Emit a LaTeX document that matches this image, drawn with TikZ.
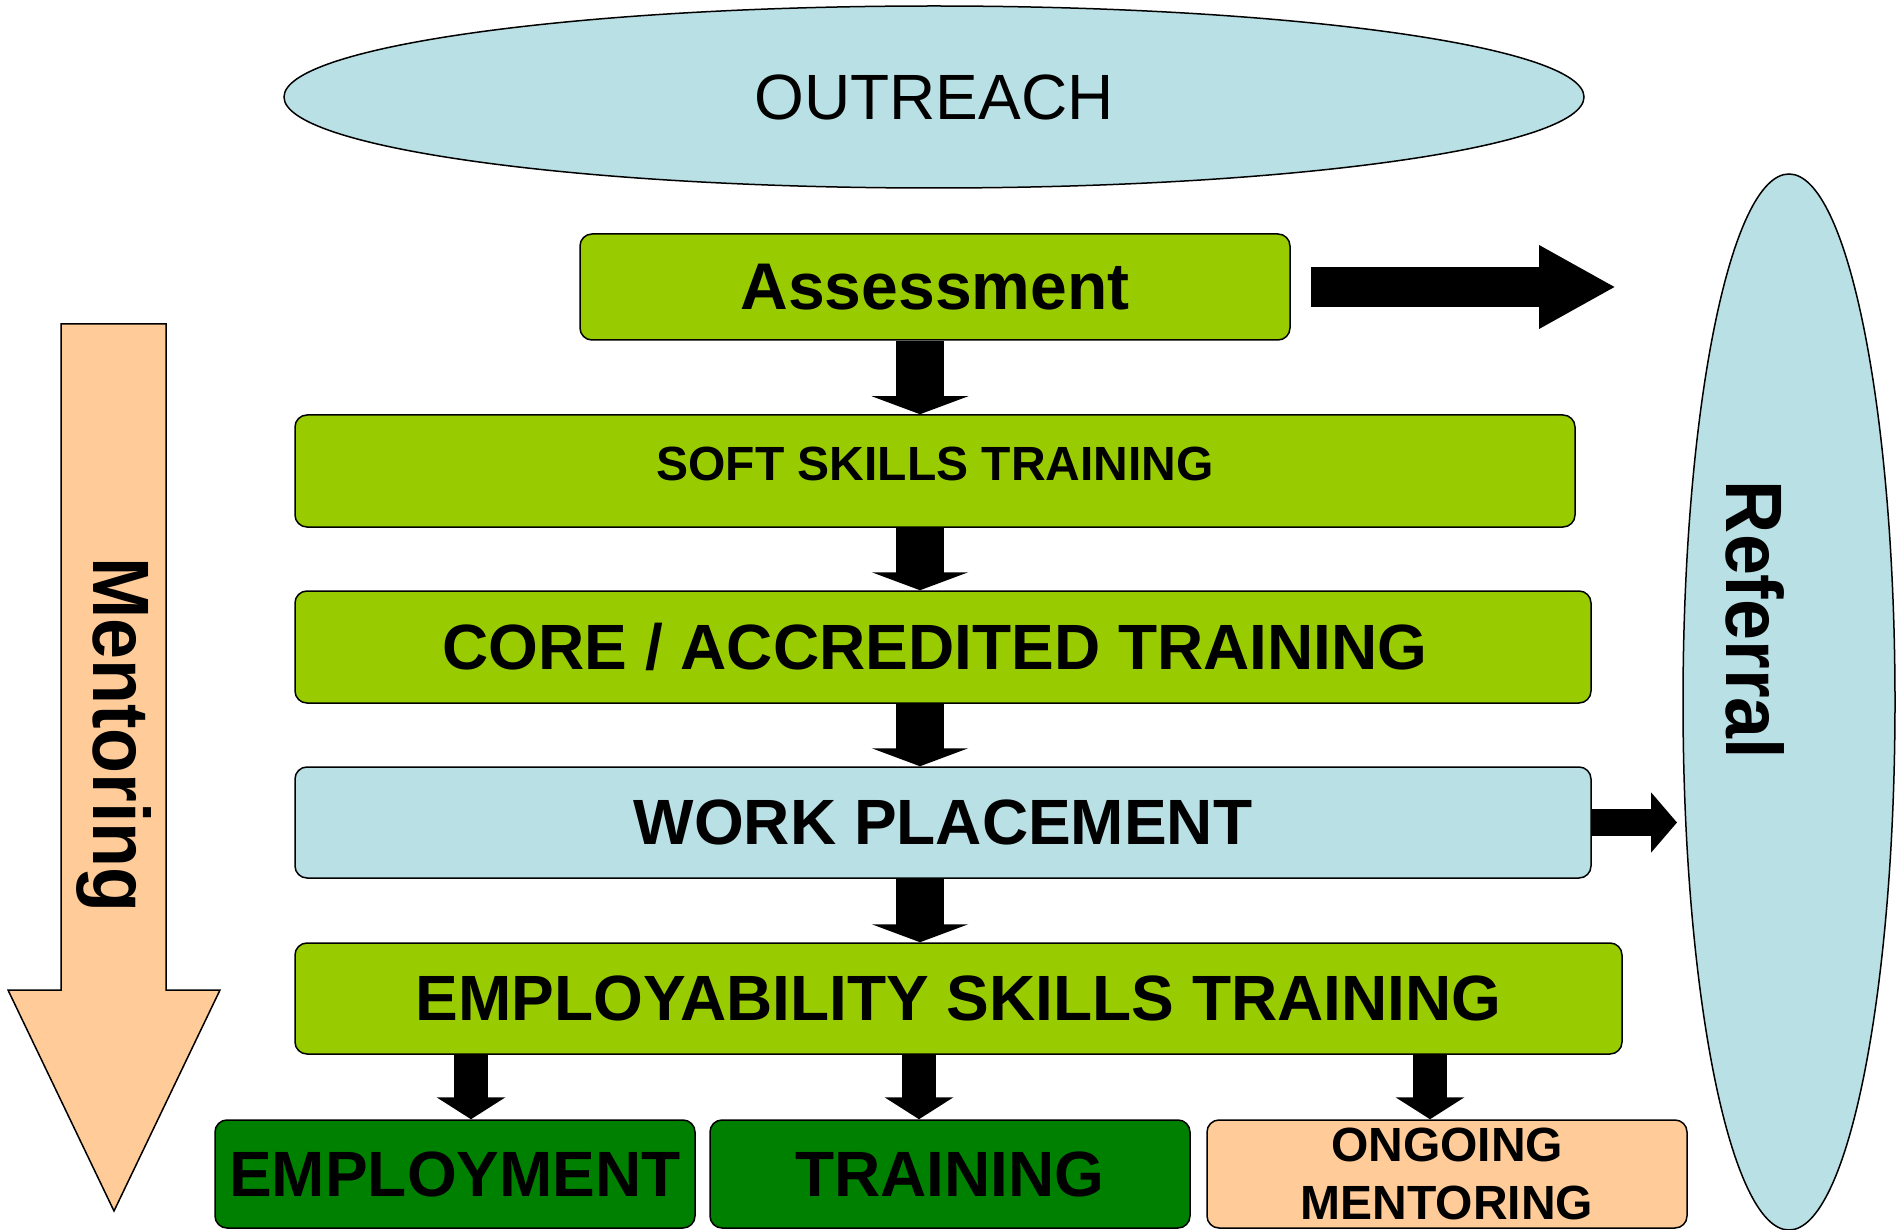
\documentclass[tikz,border=0pt]{standalone}
\usepackage{fontspec}
\setmainfont{Liberation Sans}
\usetikzlibrary{arrows.meta,shapes.geometric}
\definecolor{leafgreen}{RGB}{153,204,0}
\definecolor{paleblue}{RGB}{185,224,228}
\definecolor{peach}{RGB}{255,204,153}
\definecolor{darkgreen}{RGB}{0,128,0}

\begin{document}
\begin{tikzpicture}[x=1pt,y=-1pt]
\tikzset{stage/.style={draw=black,line width=1.5pt,rounded corners=12pt,fill=leafgreen,
    inner sep=0pt,font=\bfseries\fontsize{64}{70}\selectfont},
  oval/.style={ellipse,draw=black,line width=1.5pt,fill=paleblue,inner sep=0pt},
  bigdown/.style={line width=48pt,-{Triangle[length=18pt,width=96pt]}},
  smalldown/.style={line width=34pt,-{Triangle[length=22pt,width=68pt]}}}
\useasboundingbox (0,0) rectangle (1904,1230);

% top and right ovals
\node[oval,minimum width=1300pt,minimum height=182pt,font=\fontsize{64}{70}\selectfont]
    (outreach) at (934,97) {OUTREACH};
\node[oval,minimum width=212pt,minimum height=1056pt] (referral) at (1789,702) {};
\node[rotate=-90,font=\bfseries\fontsize{80}{90}\selectfont] (reftext) at (1755,620)
    {\scalebox{0.92}[1]{Referral}};

% mentoring arrow
\draw[fill=peach,line width=1.5pt] (61,324) -- (166,324) -- (166,990) -- (220,990)
    -- (114,1211) -- (8,990) -- (61,990) -- cycle;
\node[rotate=-90,font=\bfseries\fontsize{80}{90}\selectfont] (mentext) at (114,735)
    {\scalebox{0.92}[1]{Mentoring}};

% stages
\node[stage,minimum width=710pt,minimum height=106pt,font=\bfseries\fontsize{66}{70}\selectfont]
    (assess) at (935,287) {Assessment};
\node[stage,minimum width=1280pt,minimum height=112pt,font=\bfseries\fontsize{48}{50}\selectfont]
    (soft) at (935,471) {\raisebox{14pt}{SOFT SKILLS TRAINING}};
\node[stage,minimum width=1296pt,minimum height=112pt] (core) at (943,647)
    {CORE / ACCREDITED TRAINING\hspace*{16pt}};
\node[stage,fill=paleblue,minimum width=1296pt,minimum height=111pt] (work) at (943,822.5)
    {WORK PLACEMENT};
\node[stage,minimum width=1327pt,minimum height=111pt] (employ) at (958.5,998.5)
    {EMPLOYABILITY SKILLS TRAINING};

% outcomes
\node[stage,fill=darkgreen,minimum width=480pt,minimum height=108pt] (job) at (455,1174)
    {EMPLOYMENT};
\node[stage,fill=darkgreen,minimum width=480pt,minimum height=108pt] (train) at (950,1174)
    {TRAINING};
\node[stage,fill=peach,minimum width=480pt,minimum height=108pt,align=center,
    font=\bfseries\fontsize{48}{58}\selectfont] (ongoing) at (1447,1174)
    {ONGOING\\MENTORING};

% flow
\draw[bigdown] (assess.south -| 920,0) -- (soft.north -| 920,0);
\draw[bigdown] (soft.south -| 920,0) -- (core.north -| 920,0);
\draw[bigdown] (core.south -| 920,0) -- (work.north -| 920,0);
\draw[bigdown] (work.south -| 920,0) -- (employ.north -| 920,0);
\draw[smalldown] (employ.south -| 471,0) -- (job.north -| 471,0);
\draw[smalldown] (employ.south -| 919,0) -- (train.north -| 919,0);
\draw[smalldown] (employ.south -| 1430,0) -- (ongoing.north -| 1430,0);

% to referral
\coordinate (refin) at (1616,287);
\draw[line width=40pt,-{Triangle[length=77pt,width=78pt]}] (1311,287) -- (refin);
\draw[line width=27pt,-{Triangle[length=26pt,width=59pt]}] (work.east) -- (1677,822.5);
\end{tikzpicture}
\end{document}
